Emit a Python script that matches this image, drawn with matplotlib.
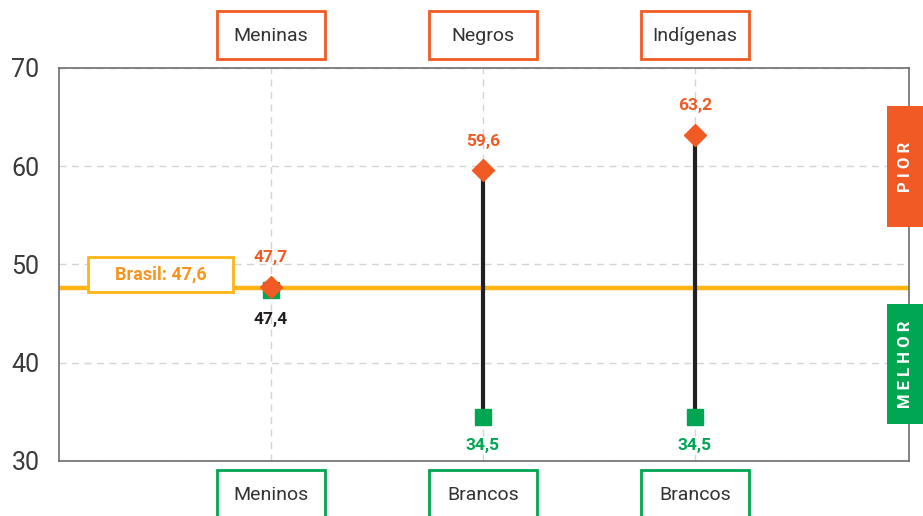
import matplotlib.pyplot as plt
from matplotlib.patches import Rectangle

plt.rcParams['font.family'] = ['Roboto', 'DejaVu Sans']

# Data
cats_worse = ['Meninas', 'Negros', 'Indígenas']
cats_better = ['Meninos', 'Brancos', 'Brancos']
worse_vals = [47.7, 59.6, 63.2]
better_vals = [47.4, 34.5, 34.5]
brasil_val = 47.6
yticks = [30, 40, 50, 60, 70]

ORANGE = '#F15A24'
GREEN = '#00A651'
YELLOW = '#FDB515'
DARK = '#231F20'

W, H = 923, 516
fig = plt.figure(figsize=(W / 100, H / 100), dpi=100)
ax = fig.add_axes([59 / W, 1 - 461 / H, 850 / W, 393 / H])

xs = [1, 2, 3]
ax.set_xlim(0, 4.01)
ax.set_ylim(30, 70)
ax.set_xticks(xs)
ax.set_xticklabels([])
ax.set_yticks(yticks)
ax.set_yticklabels([str(v) for v in yticks], fontsize=18, color='#3a3a3a')
ax.tick_params(length=0, pad=14)
for s in ax.spines.values():
    s.set_color('#6d6d6d')
    s.set_linewidth(1.2)
ax.grid(True, color='#d4d4d4', linestyle=(0, (5, 4)), linewidth=1)
ax.set_axisbelow(True)

# Brasil reference line
ax.axhline(brasil_val, color=YELLOW, lw=3.2, zorder=2)

# stems and markers
for x, w, b in zip(xs, worse_vals, better_vals):
    ax.plot([x, x], [b, w], color=DARK, lw=3, zorder=3, solid_capstyle='butt')
ax.plot(xs, better_vals, 's', ms=11.5, color=GREEN, zorder=4, lw=0)
ax.plot(xs, worse_vals, 'D', ms=11, color=ORANGE, zorder=5, lw=0)

for i, (x, w, b) in enumerate(zip(xs, worse_vals, better_vals)):
    ax.annotate(f'{w:.1f}'.replace('.', ','), (x, w), xytext=(0, 21),
                textcoords='offset points', ha='center', va='center',
                fontsize=12.5, fontweight='bold', color=ORANGE)
    bcol = DARK if i == 0 else GREEN
    ax.annotate(f'{b:.1f}'.replace('.', ','), (x, b), xytext=(0, -21),
                textcoords='offset points', ha='center', va='center',
                fontsize=12.5, fontweight='bold', color=bcol)

# Brasil label box
bx0, bx1, by0, by1 = 88, 233, 257, 292
fig.patches.append(Rectangle((bx0 / W, 1 - by1 / H), (bx1 - bx0) / W, (by1 - by0) / H,
                             transform=fig.transFigure, fill=True, facecolor='white',
                             edgecolor=YELLOW, lw=2, zorder=1))
fig.text((bx0 + bx1) / 2 / W, 1 - (by0 + by1) / 2 / H,
         f'Brasil: {brasil_val:.1f}'.replace('.', ','), ha='center', va='center',
         fontsize=13, fontweight='bold', color='#F7941D')

# category boxes
def px_x(x):
    return (59 + (x / 4.01) * 850) / W

for x, t in zip(xs, cats_worse):
    cx = px_x(x)
    fig.patches.append(Rectangle((cx - 54 / W, 1 - 59 / H), 108 / W, 48 / H,
                                 transform=fig.transFigure, fill=False,
                                 edgecolor=ORANGE, lw=2))
    fig.text(cx, 1 - 36 / H, t, ha='center', va='center', fontsize=14, color='#333333')

for x, t in zip(xs, cats_better):
    cx = px_x(x)
    fig.patches.append(Rectangle((cx - 54 / W, 1 - 530 / H), 108 / W, 60 / H,
                                 transform=fig.transFigure, fill=False,
                                 edgecolor=GREEN, lw=2))
    fig.text(cx, 1 - 495 / H, t, ha='center', va='center', fontsize=14, color='#333333')

# side labels
for (y0, y1, col, t) in [(106, 227, ORANGE, 'P I O R'), (304, 424, GREEN, 'M E L H O R')]:
    fig.patches.append(Rectangle((887 / W, 1 - y1 / H), 40 / W, (y1 - y0) / H,
                                 transform=fig.transFigure, color=col, lw=0, zorder=3))
    fig.text(906 / W, 1 - (y0 + y1) / 2 / H, t, rotation=90, ha='center', va='center',
             fontsize=12, fontweight='bold', color='white', zorder=4)

fig.savefig('out.png', dpi=100)
